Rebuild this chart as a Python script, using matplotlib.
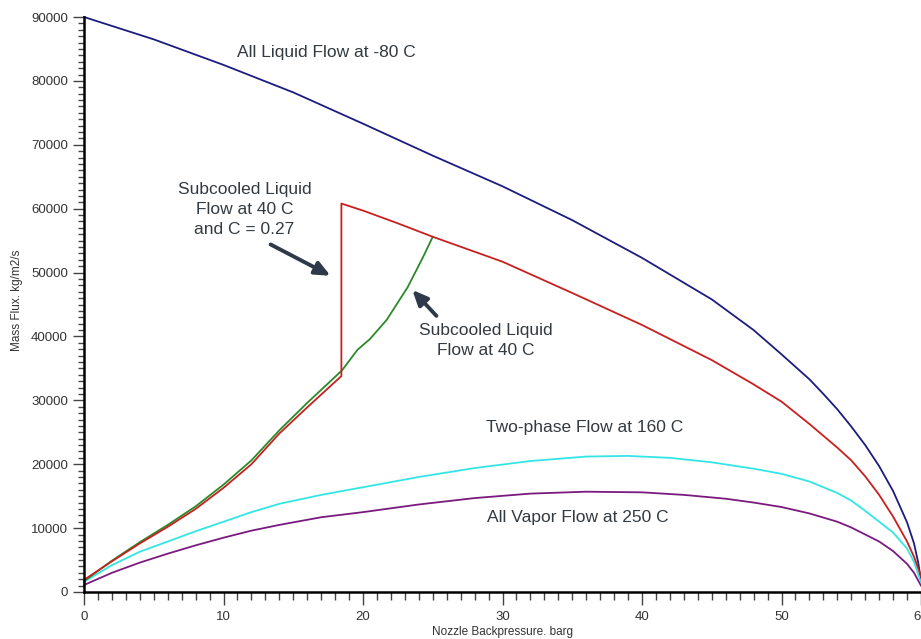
import matplotlib.pyplot as plt
from matplotlib.ticker import MultipleLocator

plt.rcParams['font.family'] = ['Liberation Sans', 'DejaVu Sans']

# All liquid flow at -80 C
liq_x = [0, 5, 10, 15, 20, 25, 30, 35, 40, 45, 48, 50, 52, 53, 54, 55, 56, 57, 58, 59, 59.5, 59.8, 60]
liq_y = [90000, 86500, 82500, 78200, 73300, 68300, 63500, 58200, 52300, 45800, 41000, 37200,
         33300, 31000, 28600, 25900, 23000, 19700, 15800, 10900, 7600, 4600, 1800]

# subcooled liquid at 40 C, C = 0.27 (red)
sub27_x = [0, 2, 4, 6, 8, 10, 12, 14, 16, 18.45, 18.45, 20, 22.5, 25, 30, 35, 40, 45, 48, 50,
           52, 54, 55, 56, 57, 58, 59, 59.5, 60]
sub27_y = [1900, 4800, 7600, 10200, 13000, 16300, 20000, 24800, 28900, 33800, 60800, 59700,
           57700, 55600, 51700, 46800, 41800, 36300, 32500, 29800, 26300, 22600, 20600, 18100,
           15200, 11800, 7900, 5500, 2500]

# subcooled liquid at 40 C (green)
sub_x = [0, 2, 4, 6, 8, 10, 12, 14, 16, 18.5, 19.6, 20.5, 21.7, 23.2, 24.3, 25.0]
sub_y = [1700, 4900, 7800, 10500, 13400, 16800, 20600, 25300, 29600, 34700, 37900, 39600,
         42600, 47700, 52400, 55600]

# two-phase flow at 160 C
two_x = [0, 2, 4, 6, 8, 10, 12, 14, 17, 20, 24, 28, 32, 36, 39, 42, 45, 48, 50, 52, 54, 55,
         56, 57, 58, 59, 59.5, 60]
two_y = [1600, 4200, 6300, 7900, 9500, 11000, 12500, 13800, 15200, 16400, 18000, 19400, 20500,
         21200, 21300, 21000, 20300, 19300, 18500, 17300, 15500, 14300, 12700, 11000, 9300,
         6800, 4700, 1500]

# all vapor flow at 250 C
vap_x = [0, 2, 4, 6, 8, 10, 12, 14, 17, 20, 24, 28, 32, 36, 40, 43, 46, 48, 50, 52, 54, 55,
         56, 57, 58, 59, 59.5, 60]
vap_y = [1100, 3000, 4600, 6000, 7300, 8500, 9600, 10500, 11700, 12500, 13700, 14700, 15400,
         15700, 15600, 15200, 14600, 14000, 13300, 12300, 11000, 10100, 9000, 7900, 6400, 4400,
         3000, 1000]

fig = plt.figure(figsize=(9.21, 6.39), dpi=100)
ax = fig.add_axes([84/921, 47/639, 837/921, 575/639])

lw = 1.3
ax.plot(liq_x, liq_y, color='#1c1c80', lw=lw, clip_on=False)
ax.plot(vap_x, vap_y, color='#7a1a7e', lw=lw, clip_on=False)
ax.plot(two_x, two_y, color='#33e6e6', lw=lw, clip_on=False)
ax.plot(sub_x, sub_y, color='#2a8a2a', lw=lw, clip_on=False)
ax.plot(sub27_x, sub27_y, color='#c8201e', lw=lw, clip_on=False)

ax.set_xlim(0, 60)
ax.set_ylim(0, 90000)
for s in ['top', 'right']:
    ax.spines[s].set_visible(False)
for s in ['left', 'bottom']:
    ax.spines[s].set_linewidth(1.8)

ax.xaxis.set_major_locator(MultipleLocator(10))
ax.xaxis.set_minor_locator(MultipleLocator(1))
ax.yaxis.set_major_locator(MultipleLocator(10000))
ax.yaxis.set_minor_locator(MultipleLocator(1000))
ax.tick_params(axis='both', which='major', length=8, width=1, color='#444444',
               labelsize=9.5, labelcolor='#333333')
ax.tick_params(axis='both', which='minor', length=4, width=1, color='#444444')
ax.tick_params(axis='x', which='major', length=9, pad=5)
ax.tick_params(axis='x', which='minor', length=6)

ax.set_xlabel('Nozzle Backpressure. barg', fontsize=8.5, color='#333333')
ax.xaxis.label.set_va('center')
ax.xaxis.set_label_coords(0.5, -0.0696)
ax.set_ylabel('Mass Flux. kg/m2/s', fontsize=8.5, color='#333333')
ax.yaxis.label.set_va('center')
ax.yaxis.set_label_coords(-0.080, 0.508)

tc = '#333a40'
fs = 12.5
ax.text(17.4, 84400, 'All Liquid Flow at -80 C', fontsize=fs, color=tc, ha='center', va='center')
ax.text(11.5, 59900, 'Subcooled Liquid\nFlow at 40 C\nand C = 0.27', fontsize=fs, color=tc,
        ha='center', va='center', linespacing=1.4)
ax.text(28.8, 39400, 'Subcooled Liquid\nFlow at 40 C', fontsize=fs, color=tc,
        ha='center', va='center', linespacing=1.4)
ax.text(35.9, 25700, 'Two-phase Flow at 160 C', fontsize=fs, color=tc, ha='center', va='center')
ax.text(35.4, 11700, 'All Vapor Flow at 250 C', fontsize=fs, color=tc, ha='center', va='center')

arrow = dict(arrowstyle='-|>,head_length=0.9,head_width=0.4', color='#2e3a4a', lw=2.8)
ax.annotate('', xy=(17.85, 49300), xytext=(13.2, 54600), arrowprops=arrow)
ax.annotate('', xy=(23.4, 47600), xytext=(25.4, 42900), arrowprops=arrow)

fig.savefig('out.png', dpi=100)
